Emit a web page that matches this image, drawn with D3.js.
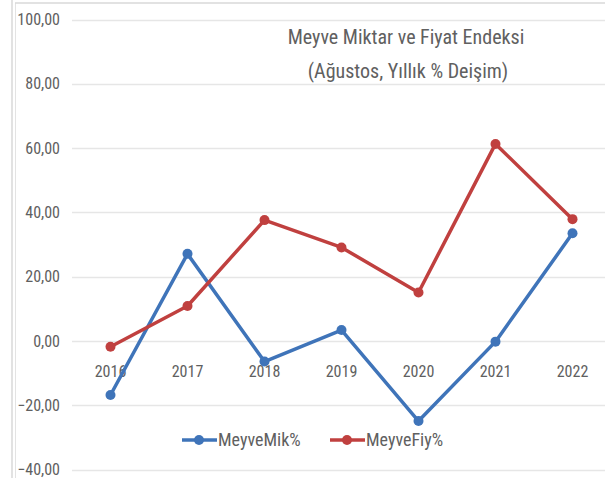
<!DOCTYPE html>
<meta charset="utf-8">
<style>
body { margin: 0; background: #fff; }
svg { display: block; }
.chart text { font-family: "Liberation Sans Narrow", "Roboto Condensed", "Liberation Sans", sans-serif; fill: #606060; }
</style>
<svg class="chart" width="605" height="478"></svg>
<script src="https://cdnjs.cloudflare.com/ajax/libs/d3/7.8.5/d3.min.js"></script>
<script>

var years = ["2016", "2017", "2018", "2019", "2020", "2021", "2022"];
var meyveMik = [-16.8, 27.1, -6.4, 3.4, -24.9, -0.2, 33.5];
var meyveFiy = [-1.8, 10.9, 37.6, 29.1, 15.1, 61.3, 37.9];
var yTicks = [-40, -20, 0, 20, 40, 60, 80, 100];
var seriesNames = ["MeyveMik%", "MeyveFiy%"];
var colors = ["#3f74b9", "#c0403f"];

var svg = d3.select(".chart");

// frame lines from the screenshot
svg.append("line").attr("x1", 12).attr("x2", 12).attr("y1", 0).attr("y2", 478).attr("stroke", "#d9d9d9").attr("stroke-width", 1.5);
svg.append("line").attr("x1", 15.5).attr("x2", 15.5).attr("y1", 3).attr("y2", 478).attr("stroke", "#e3e3e3");
svg.append("line").attr("x1", 15).attr("x2", 605).attr("y1", 3).attr("y2", 3).attr("stroke", "#d9d9d9").attr("stroke-width", 1.5);

var x = d3.scaleBand()
    .domain(years)
    .range([72, 611]);

var y = d3.scaleLinear()
    .domain([-40, 100])
    .range([469.6, 19.5]);

// gridlines
svg.append("g").selectAll("line")
    .data(yTicks)
  .enter().append("line")
    .attr("x1", 72).attr("x2", 605)
    .attr("y1", function(d) { return Math.round(y(d)) + 0.5; })
    .attr("y2", function(d) { return Math.round(y(d)) + 0.5; })
    .attr("stroke", "#e6e6e6")
    .attr("stroke-width", 1.5);

// y labels
svg.append("g").selectAll("text")
    .data(yTicks)
  .enter().append("text")
    .attr("x", 60)
    .attr("y", function(d) { return y(d); })
    .attr("dy", "0.35em")
    .attr("text-anchor", "end")
    .style("font-size", "16px")
    .text(function(d) { return d3.format(".2f")(d).replace(".", ","); });

// x labels, sitting just below the zero line
svg.append("g").selectAll("text")
    .data(years)
  .enter().append("text")
    .attr("x", function(d) { return x(d) + x.bandwidth() / 2; })
    .attr("y", y(0) + 36)
    .attr("text-anchor", "middle")
    .style("font-size", "16px")
    .text(function(d) { return d; });

var line = d3.line()
    .x(function(d, i) { return x(years[i]) + x.bandwidth() / 2; })
    .y(function(d) { return y(d); });

[meyveMik, meyveFiy].forEach(function(vals, k) {
  var g = svg.append("g");
  g.append("path")
    .datum(vals)
    .attr("d", line)
    .attr("fill", "none")
    .attr("stroke", colors[k])
    .attr("stroke-width", 3.5)
    .attr("stroke-linejoin", "round");
  g.selectAll("circle")
    .data(vals)
  .enter().append("circle")
    .attr("cx", function(d, i) { return x(years[i]) + x.bandwidth() / 2; })
    .attr("cy", function(d) { return y(d); })
    .attr("r", 5)
    .attr("fill", colors[k]);
});

// title
var title = svg.append("text")
    .attr("x", 406)
    .attr("y", 44)
    .attr("text-anchor", "middle")
    .style("font-size", "20px");
title.append("tspan").attr("x", 406).text("Meyve Miktar ve Fiyat Endeksi");
title.append("tspan").attr("x", 408).attr("dy", 34).text("(Ağustos, Yıllık % Deişim)");

// legend
var legendX = [182, 330];
seriesNames.forEach(function(name, k) {
  var lg = svg.append("g").attr("transform", "translate(" + legendX[k] + ",440)");
  lg.append("line").attr("x1", 0).attr("x2", 35).attr("stroke", colors[k]).attr("stroke-width", 3.5);
  lg.append("circle").attr("cx", 17).attr("r", 5).attr("fill", colors[k]);
  lg.append("text").attr("x", 36).attr("dy", "0.35em").style("font-size", "18px").text(name);
});

</script>
